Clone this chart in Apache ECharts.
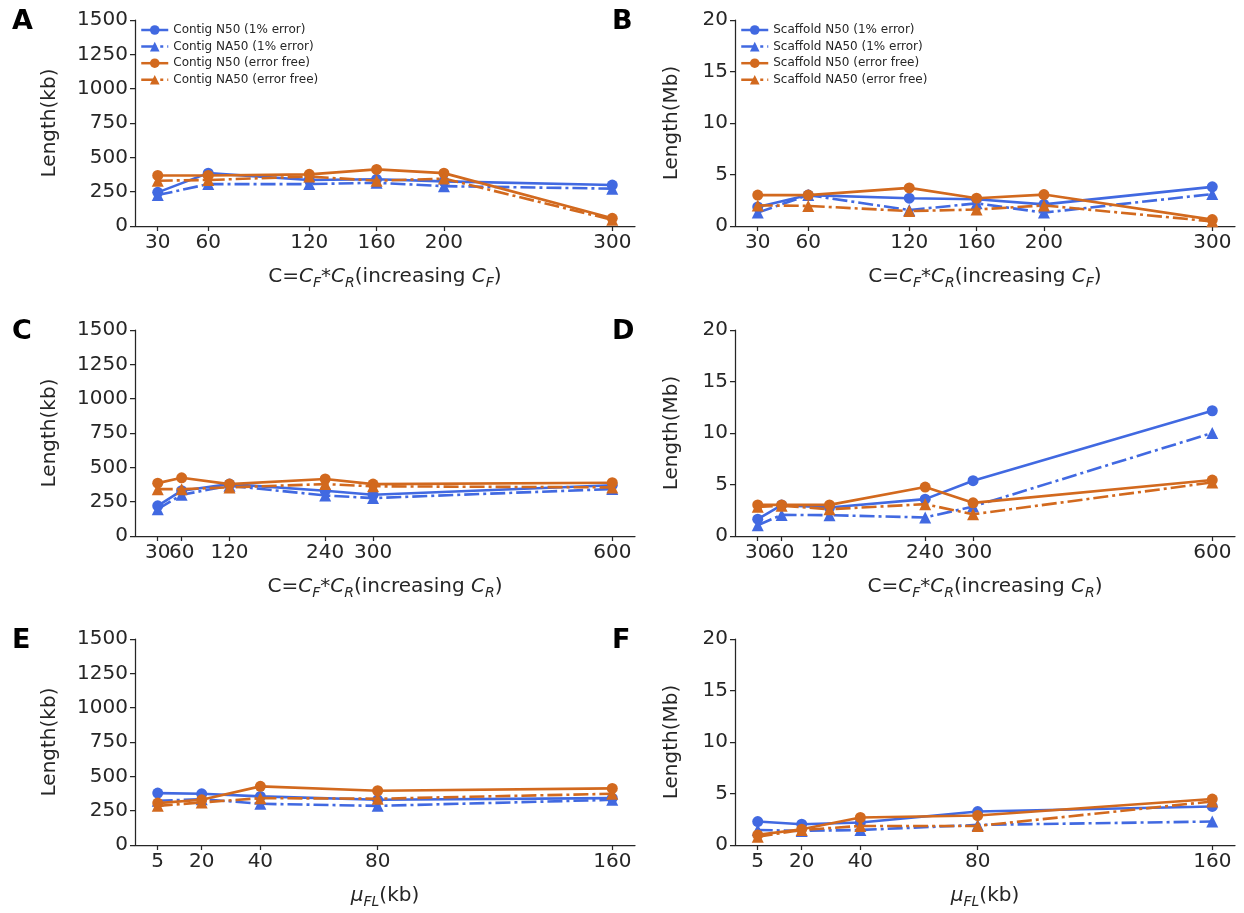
<!DOCTYPE html>
<html>
<head>
<meta charset="utf-8">
<script src="https://cdn.jsdelivr.net/npm/echarts@6/dist/echarts.min.js"></script>
<style>
  html, body { margin: 0; padding: 0; background: #fff; }
  #chart { width: 1244px; height: 913px; }
</style>
</head>
<body>
<div id="chart"></div>
<script>
// ---- data ----
const xCF = [30, 60, 120, 160, 200, 300];      // coverage, increasing C_F
const xCR = [30, 60, 120, 240, 300, 600];      // coverage, increasing C_R
const xFL = [5, 20, 40, 80, 160];              // mean fragment length (kb)

const yTicksKb = [0, 250, 500, 750, 1000, 1250, 1500];
const yTicksMb = [0, 5, 10, 15, 20];

// Panel A: contig lengths (kb) vs C_F
const contigN50ErrCF  = [245, 385, 335, 340, 325, 298];
const contigNA50ErrCF = [225, 305, 305, 315, 290, 272];
const contigN50FreeCF  = [368, 368, 376, 412, 385, 56];
const contigNA50FreeCF = [330, 335, 360, 330, 345, 45];

// Panel B: scaffold lengths (Mb) vs C_F
const scafN50ErrCF  = [1.85, 3.0, 2.7, 2.6, 2.1, 3.8];
const scafNA50ErrCF = [1.3, 3.0, 1.55, 2.2, 1.3, 3.1];
const scafN50FreeCF  = [3.0, 3.0, 3.7, 2.7, 3.05, 0.62];
const scafNA50FreeCF = [2.0, 1.95, 1.45, 1.6, 2.0, 0.45];

// Panel C: contig lengths (kb) vs C_R
const contigN50ErrCR  = [220, 330, 378, 330, 300, 370];
const contigNA50ErrCR = [195, 300, 366, 295, 276, 342];
const contigN50FreeCR  = [385, 424, 378, 415, 378, 388];
const contigNA50FreeCR = [341, 341, 354, 378, 362, 354];

// Panel D: scaffold lengths (Mb) vs C_R
const scafN50ErrCR  = [1.63, 3.0, 2.76, 3.58, 5.37, 12.16];
const scafNA50ErrCR = [1.04, 2.05, 2.02, 1.8, 2.86, 10.0];
const scafN50FreeCR  = [3.02, 3.02, 3.02, 4.75, 3.22, 5.43];
const scafNA50FreeCR = [2.83, 2.93, 2.6, 3.09, 2.11, 5.2];

// Panel E: contig lengths (kb) vs mu_FL
const contigN50ErrFL  = [378, 373, 354, 329, 341];
const contigNA50ErrFL = [322, 334, 300, 285, 329];
const contigN50FreeFL  = [305, 329, 427, 395, 412];
const contigNA50FreeFL = [285, 310, 341, 337, 373];

// Panel F: scaffold lengths (Mb) vs mu_FL
const scafN50ErrFL  = [2.28, 2.02, 2.18, 3.25, 3.74];
const scafNA50ErrFL = [1.46, 1.37, 1.46, 1.95, 2.28];
const scafN50FreeFL  = [0.98, 1.53, 2.67, 2.86, 4.46];
const scafNA50FreeFL = [0.81, 1.46, 1.85, 1.85, 4.23];

const contigNames = ['Contig N50 (1% error)', 'Contig NA50 (1% error)', 'Contig N50 (error free)', 'Contig NA50 (error free)'];
const scafNames = ['Scaffold N50 (1% error)', 'Scaffold NA50 (1% error)', 'Scaffold N50 (error free)', 'Scaffold NA50 (error free)'];

// ---- styling ----
const FONT = 'DejaVu Sans';
const INK = '#262626';
const BLUE = '#4169E1';
const ORANGE = '#D2691E';
const DASHDOT = [15, 4, 3, 4];

const colLeft = [135, 735];
const rowTop = [20, 330, 639];
const plotW = 500, plotH = 206;

const richName = {
  n: { fontSize: 20, fontFamily: FONT, color: INK, lineHeight: 26 },
  i: { fontSize: 20, fontFamily: FONT, color: INK, fontStyle: 'italic', lineHeight: 26 },
  s: { fontSize: 14, fontFamily: FONT, color: INK, fontStyle: 'italic', lineHeight: 14, verticalAlign: 'bottom' }
};

const nameCF = '{n|C=}{i|C}{s|F}{n|*}{i|C}{s|R}{n|(increasing }{i|C}{s|F}{n|)}';
const nameCR = '{n|C=}{i|C}{s|F}{n|*}{i|C}{s|R}{n|(increasing }{i|C}{s|R}{n|)}';
const nameFL = '{i|μ}{s|FL}{n|(kb)}';

const panels = [
  { x: xCF, xr: [16.5, 313.5], xname: nameCF, yt: yTicksKb, ymax: 1500, yname: 'Length(kb)', names: contigNames,
    ys: [contigN50ErrCF, contigNA50ErrCF, contigN50FreeCF, contigNA50FreeCF], letter: 'A', col: 0, row: 0 },
  { x: xCF, xr: [16.5, 313.5], xname: nameCF, yt: yTicksMb, ymax: 20, yname: 'Length(Mb)', names: scafNames,
    ys: [scafN50ErrCF, scafNA50ErrCF, scafN50FreeCF, scafNA50FreeCF], letter: 'B', col: 1, row: 0 },
  { x: xCR, xr: [1.5, 628.5], xname: nameCR, yt: yTicksKb, ymax: 1500, yname: 'Length(kb)', names: contigNames,
    ys: [contigN50ErrCR, contigNA50ErrCR, contigN50FreeCR, contigNA50FreeCR], letter: 'C', col: 0, row: 1 },
  { x: xCR, xr: [1.5, 628.5], xname: nameCR, yt: yTicksMb, ymax: 20, yname: 'Length(Mb)', names: scafNames,
    ys: [scafN50ErrCR, scafNA50ErrCR, scafN50FreeCR, scafNA50FreeCR], letter: 'D', col: 1, row: 1 },
  { x: xFL, xr: [-2.75, 167.75], xname: nameFL, yt: yTicksKb, ymax: 1500, yname: 'Length(kb)', names: contigNames,
    ys: [contigN50ErrFL, contigNA50ErrFL, contigN50FreeFL, contigNA50FreeFL], letter: 'E', col: 0, row: 2 },
  { x: xFL, xr: [-2.75, 167.75], xname: nameFL, yt: yTicksMb, ymax: 20, yname: 'Length(Mb)', names: scafNames,
    ys: [scafN50ErrFL, scafNA50ErrFL, scafN50FreeFL, scafNA50FreeFL], letter: 'F', col: 1, row: 2 }
];

const seriesStyle = [
  { color: BLUE, symbol: 'circle', type: 'solid' },
  { color: BLUE, symbol: 'triangle', type: DASHDOT },
  { color: ORANGE, symbol: 'circle', type: 'solid' },
  { color: ORANGE, symbol: 'triangle', type: DASHDOT }
];

const tickLabel = {
  fontSize: 20, fontFamily: FONT, color: INK, margin: 7,
  hideOverlap: false, showMinLabel: true, showMaxLabel: true,
  formatter: v => String(v)
};

const grid = [], xAxis = [], yAxis = [], series = [], graphic = [];
const extraX = [];

panels.forEach((p, k) => {
  const left = colLeft[p.col], top = rowTop[p.row];
  grid.push({ left: left, top: top, width: plotW, height: plotH, containLabel: false });
  // main x axis: line, all ticks, labels from the second tick on
  xAxis.push({
    type: 'value', gridIndex: k, min: p.xr[0], max: p.xr[1],
    name: p.xname, nameLocation: 'middle', nameGap: 38,
    nameTextStyle: { rich: richName },
    axisLine: { show: true, onZero: false, lineStyle: { color: INK, width: 1.25 } },
    axisTick: { show: true, customValues: p.x, length: 5, lineStyle: { color: INK, width: 1.25 } },
    axisLabel: Object.assign({ customValues: p.x.slice(1) }, tickLabel),
    splitLine: { show: false }
  });
  // companion x axis carrying only the first tick label (kept separate so
  // crowded neighbouring labels are all drawn)
  extraX.push({
    type: 'value', gridIndex: k, min: p.xr[0], max: p.xr[1], position: 'bottom',
    axisLine: { show: false, onZero: false },
    axisTick: { show: false },
    axisLabel: Object.assign({ customValues: p.x.slice(0, 1) }, tickLabel),
    splitLine: { show: false }
  });
  yAxis.push({
    type: 'value', gridIndex: k, min: 0, max: p.ymax,
    interval: p.yt[1] - p.yt[0],
    name: p.yname, nameLocation: 'middle', nameGap: p.col === 0 ? 75 : 53,
    nameTextStyle: { fontSize: 20, fontFamily: FONT, color: INK },
    axisLine: { show: true, onZero: false, lineStyle: { color: INK, width: 1.25 } },
    axisTick: { show: true, length: 5, lineStyle: { color: INK, width: 1.25 } },
    axisLabel: tickLabel,
    splitLine: { show: false }
  });
  p.ys.forEach((vals, j) => {
    const st = seriesStyle[j];
    series.push({
      type: 'line', name: p.names[j], xAxisIndex: k, yAxisIndex: k,
      data: p.x.map((xv, i) => [xv, vals[i]]),
      symbol: st.symbol, symbolSize: st.symbol === 'circle' ? 11 : 12,
      showAllSymbol: true,
      itemStyle: { color: st.color },
      lineStyle: { color: st.color, width: 2.6, type: st.type },
      emphasis: { disabled: true },
      z: 2 + j
    });
  });
  graphic.push({
    type: 'text', left: p.col === 0 ? 12 : 612, top: top - 12,
    style: { text: p.letter, font: 'bold 27px "DejaVu Sans"', fill: '#000' }
  });
});

const legendCommon = {
  orient: 'vertical', itemWidth: 27, itemHeight: 12, itemGap: 4.6, padding: 0,
  textStyle: { fontSize: 12, fontFamily: FONT, color: INK },
  lineStyle: { width: 2.5 },
  selectedMode: false
};

const option = {
  animation: false,
  backgroundColor: '#fff',
  grid,
  xAxis: xAxis.concat(extraX),
  yAxis, series, graphic,
  legend: [
    Object.assign({ left: 140, top: 24, data: contigNames }, legendCommon),
    Object.assign({ left: 740, top: 24, data: scafNames }, legendCommon)
  ]
};

const chart = echarts.init(document.getElementById('chart'), null, { renderer: 'canvas' });
chart.setOption(option);
</script>
</body>
</html>
